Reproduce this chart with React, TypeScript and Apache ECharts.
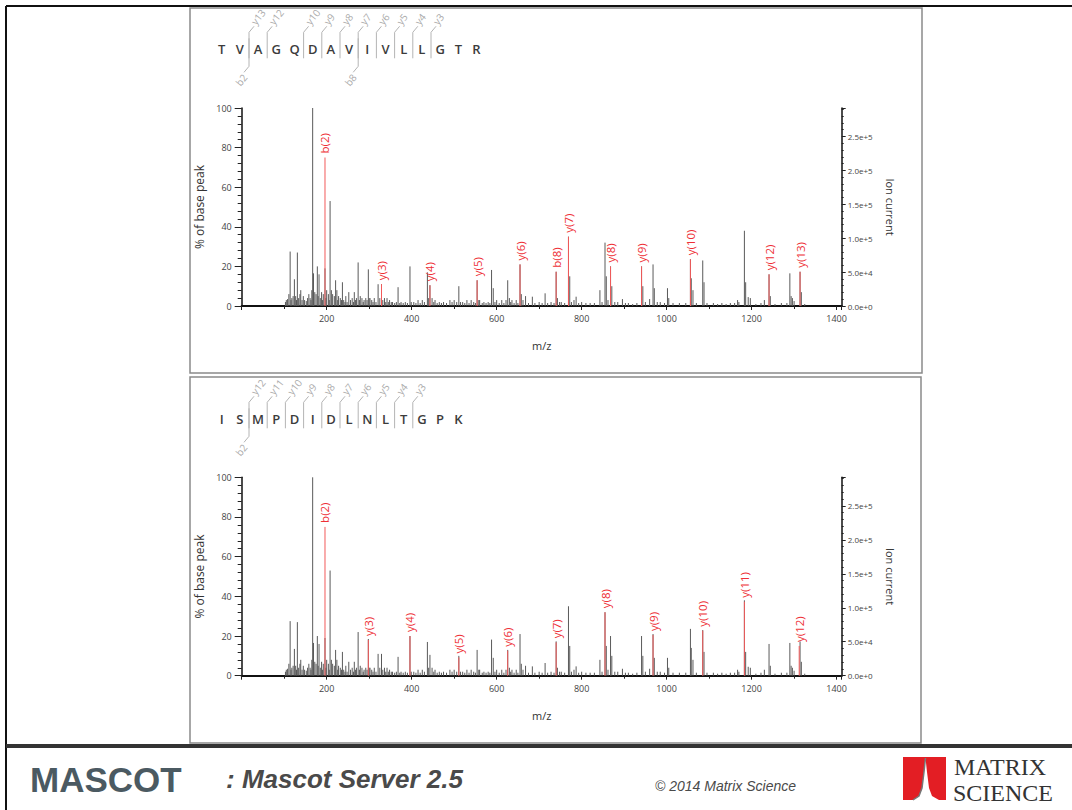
import React, { useEffect, useRef } from 'react';
import * as echarts from 'echarts';

// Spectrum peaks [m/z, % of base peak] (same spectrum matched against two peptides)
const spectrumPeaks: [number, number][] = [
  [103, 2], [105, 3], [108, 3.5], [111, 6], [114, 27.5], [116, 3], [118, 4], [121, 5], [124, 13.5], [127, 5],
  [129, 3], [131, 27], [134, 4], [137, 6], [139, 8], [142, 3], [145, 5], [148, 3], [152, 2.5], [155, 4],
  [158, 6], [161, 4], [163, 3], [165, 8], [167, 100], [169, 16.5], [172, 7], [175, 6], [178, 20], [180, 5],
  [182, 16], [185, 4], [188, 7], [190, 3], [192, 6], [196, 19], [198, 4], [200, 8], [204, 6], [206, 3],
  [208, 53], [211, 8], [214, 6], [218, 5], [221, 13], [224, 8], [226, 3], [228, 5], [232, 4], [235, 3],
  [237, 12], [240, 3], [243, 2], [245, 5], [248, 2], [252, 7], [256, 3], [260, 4], [263, 2], [265, 7],
  [268, 3], [270, 4], [274, 22], [277, 3], [279, 5], [283, 4], [286, 2], [288, 3], [292, 4], [295, 3],
  [298, 18.5], [300, 4], [302, 4], [306, 3], [309, 2], [312, 4], [316, 2], [321, 11], [325, 4], [329, 11],
  [332, 3], [336, 4], [339, 2], [342, 4], [345, 2], [348, 3], [352, 2], [355, 2], [360, 1.5], [364, 2],
  [368, 9.5], [372, 1.5], [375, 2], [380, 1.5], [385, 2], [390, 1.5], [396, 20], [399, 2], [405, 2], [410, 1.5],
  [415, 3], [420, 1.5], [425, 3], [430, 2], [437, 17], [440, 4], [443, 10.5], [448, 4], [452, 2], [455, 3],
  [460, 1.5], [465, 2], [470, 1.5], [475, 2], [482, 1.5], [490, 3], [495, 2], [500, 3], [506, 2], [511, 10],
  [515, 2], [520, 2], [525, 1.5], [530, 3], [535, 1.5], [540, 3], [546, 2], [550, 1.5], [554, 13], [558, 3],
  [560, 3], [566, 1.5], [570, 2], [575, 1.5], [580, 2], [584, 1.5], [588, 18.2], [592, 9], [596, 2], [600, 3],
  [606, 1.5], [612, 3], [617, 1.5], [622, 3], [626, 13], [630, 4], [633, 2], [636, 3], [641, 1.5], [646, 3],
  [650, 1.5], [655, 21], [658, 6], [662, 3], [668, 5], [675, 1.5], [684, 4.7], [690, 1.5], [700, 2], [707, 1.5],
  [714, 6.4], [720, 1.5], [728, 2], [735, 1.5], [740, 17.3], [743, 4], [748, 2], [752, 2], [760, 1.5], [769, 35],
  [772, 15], [776, 2], [782, 3], [787, 4.7], [793, 1.5], [800, 2], [810, 1.5], [820, 1.5], [830, 1.5], [843, 8],
  [848, 2], [855, 32], [858, 15], [862, 3], [868, 20], [871, 10], [878, 2], [885, 2], [896, 3.5], [903, 1.5],
  [910, 1.5], [920, 1], [930, 1.5], [941, 20], [944, 10], [950, 2], [960, 3.5], [968, 21], [971, 9], [978, 2],
  [985, 2], [995, 1.5], [1002, 9], [1005, 4], [1015, 1.5], [1030, 1.5], [1045, 1.5], [1056, 23.6], [1058, 14], [1062, 8],
  [1070, 1.5], [1085, 23], [1088, 12], [1095, 1.5], [1110, 1.5], [1120, 1], [1130, 1.5], [1140, 1], [1150, 1.5], [1160, 1.5],
  [1167, 3], [1170, 2], [1183, 38], [1186, 12], [1192, 4.5], [1197, 4], [1210, 1], [1222, 1.5], [1230, 3], [1241, 16],
  [1244, 5], [1255, 1], [1270, 1.5], [1283, 1.5], [1290, 16.5], [1293, 5], [1296, 4], [1300, 2.5], [1314, 17.3], [1317, 7],
  [1325, 1],
];

// Matched ions, upper panel (TVAGQDAVIVLLGTR)
const topIonLabels = ['b(2)', 'y(3)', 'y(4)', 'y(5)', 'y(6)', 'b(8)', 'y(7)', 'y(8)', 'y(9)', 'y(10)', 'y(12)', 'y(13)'];
const topIonMz = [196, 329, 443, 554, 655, 740, 769, 868, 941, 1056, 1241, 1314];
const topIonIntensity = [75, 11, 10.5, 13, 21, 17.3, 35, 20, 20, 23.6, 16, 17.3];

// Matched ions, lower panel (ISMPDIDLNLTGPK)
const bottomIonLabels = ['b(2)', 'y(3)', 'y(4)', 'y(5)', 'y(6)', 'y(7)', 'y(8)', 'y(9)', 'y(10)', 'y(11)', 'y(12)'];
const bottomIonMz = [196, 298, 396, 511, 626, 740, 855, 968, 1085, 1183, 1312];
const bottomIonIntensity = [75, 18, 20, 9.2, 12.6, 16.8, 32, 20.5, 22.7, 37.3, 15];

const topSequence = 'TVAGQDAVIVLLGTR'.split('');
const topYIons = [13, 12, 10, 9, 8, 7, 6, 5, 4, 3];
const topBIons = [2, 8];
const bottomSequence = 'ISMPDIDLNLTGPK'.split('');
const bottomYIons = [12, 11, 10, 9, 8, 7, 6, 5, 4, 3];
const bottomBIons = [2];

const MZ_MAX = 1412;
const ION_CURRENT_MAX = 292000;
const FONT = '"Open Sans", "Noto Sans", sans-serif';

function peptideGraphics(seq: string[], yIons: number[], bIons: number[], x0: number, yMid: number) {
  const step = 18.2;
  const N = seq.length;
  const els: any[] = [];
  const grey = '#b4b4b4';
  yIons.forEach((n) => {
    const bx = x0 + (N - n - 0.5) * step;
    els.push({
      type: 'polyline',
      shape: { points: [[bx, yMid + 9], [bx, yMid - 17], [bx + 5, yMid - 23]] },
      style: { stroke: grey, lineWidth: 1, fill: 'none' },
    });
    els.push({
      type: 'text', x: bx + 4, y: yMid - 26, rotation: 0.9,
      style: { text: 'y' + n, fontSize: 10, fontFamily: FONT, fill: '#ababab', align: 'left', verticalAlign: 'middle' },
    });
  });
  bIons.forEach((n) => {
    const bx = x0 + (n - 0.5) * step;
    els.push({
      type: 'polyline',
      shape: { points: [[bx, yMid - 11], [bx, yMid + 17], [bx - 5, yMid + 23]] },
      style: { stroke: grey, lineWidth: 1, fill: 'none' },
    });
    els.push({
      type: 'text', x: bx - 4, y: yMid + 26, rotation: 0.9,
      style: { text: 'b' + n, fontSize: 10, fontFamily: FONT, fill: '#ababab', align: 'right', verticalAlign: 'middle' },
    });
  });
  seq.forEach((aa, i) => {
    els.push({
      type: 'text', x: x0 + i * step, y: yMid,
      style: { text: aa, fontSize: 13, fontWeight: 600, fontFamily: FONT, fill: '#3c3c3c', align: 'center', verticalAlign: 'middle' },
    });
  });
  return els;
}

function axesFor(i: number) {
  const lineStyle = { color: '#111', width: 1.5 };
  const tickStyle = { color: '#222', width: 1 };
  const xAxis = {
    gridIndex: i, type: 'value', min: 0, max: MZ_MAX, interval: 200,
    axisLine: { show: true, onZero: false, lineStyle: { color: '#111', width: 2 } },
    axisTick: { show: true, length: 4, lineStyle: tickStyle },
    minorTick: { show: true, splitNumber: 2, length: 3, lineStyle: tickStyle },
    splitLine: { show: false },
    axisLabel: {
      fontSize: 9, color: '#444', margin: 8, fontFamily: FONT,
      formatter: (v: number) => (v > 0 && v % 200 === 0 ? String(v) : ''),
    },
    name: 'm/z', nameLocation: 'middle', nameGap: 34,
    nameTextStyle: { fontSize: 11, color: '#333', fontFamily: FONT },
  };
  const yLeft = {
    gridIndex: i, type: 'value', min: 0, max: 100, interval: 20, position: 'left',
    axisLine: { show: true, lineStyle },
    axisTick: { show: true, length: 7, lineStyle: tickStyle },
    minorTick: { show: true, splitNumber: 5, length: 4, lineStyle: tickStyle },
    splitLine: { show: false },
    axisLabel: { fontSize: 9, color: '#444', margin: 10, fontFamily: FONT },
    name: '% of base peak', nameLocation: 'middle', nameGap: 30, nameRotate: 90,
    nameTextStyle: { fontSize: 12, color: '#333', fontFamily: FONT },
  };
  const yRight = {
    gridIndex: i, type: 'value', min: 0, max: ION_CURRENT_MAX, interval: 50000, position: 'right',
    axisLine: { show: true, lineStyle },
    axisTick: { show: true, length: 4, lineStyle: tickStyle },
    minorTick: { show: true, splitNumber: 5, length: 2, lineStyle: tickStyle },
    splitLine: { show: false },
    axisLabel: {
      fontSize: 8, color: '#444', margin: 6, fontFamily: FONT,
      formatter: (v: number) => (v % 50000 === 0 ? v.toExponential(1) : ''),
    },
    name: 'Ion current', nameLocation: 'middle', nameGap: 43, nameRotate: -90,
    nameTextStyle: { fontSize: 11, color: '#333', fontFamily: FONT },
  };
  return { xAxis, yLeft, yRight };
}

function peakSeries(i: number) {
  return {
    type: 'custom', xAxisIndex: i, yAxisIndex: i * 2,
    data: spectrumPeaks,
    z: 2,
    renderItem: (_p: any, api: any) => {
      const a = api.coord([api.value(0), 0]);
      const b = api.coord([api.value(0), api.value(1)]);
      return { type: 'line', shape: { x1: a[0], y1: a[1], x2: b[0], y2: b[1] }, style: { stroke: '#5a5a5a', lineWidth: 1 } };
    },
  };
}

function ionSeries(i: number, labels: string[], mz: number[], inten: number[]) {
  const data = mz.map((m, k) => [m, inten[k]]);
  return {
    type: 'custom', xAxisIndex: i, yAxisIndex: i * 2,
    data, z: 3,
    renderItem: (p: any, api: any) => {
      const a = api.coord([api.value(0), 0]);
      const b = api.coord([api.value(0), api.value(1)]);
      return {
        type: 'group',
        children: [
          { type: 'line', shape: { x1: a[0], y1: a[1], x2: b[0], y2: b[1] }, style: { stroke: '#f25a5a', lineWidth: 1 } },
          {
            type: 'text', x: b[0], y: b[1] - 4, rotation: Math.PI / 2,
            style: { text: labels[p.dataIndex], fontSize: 11.5, fontFamily: FONT, fill: '#ee2f36', align: 'left', verticalAlign: 'middle' },
          },
        ],
      };
    },
  };
}

export default function App() {
  const ref = useRef<HTMLDivElement>(null);
  useEffect(() => {
    if (!ref.current) return;
    const chart = echarts.init(ref.current, undefined, { renderer: 'svg' });
    const a0 = axesFor(0);
    const a1 = axesFor(1);
    const graphic: any[] = [
      // slide frame
      { type: 'line', shape: { x1: 6, y1: 6, x2: 1072, y2: 6 }, style: { stroke: '#111', lineWidth: 2 } },
      { type: 'line', shape: { x1: 6, y1: 6, x2: 6, y2: 810 }, style: { stroke: '#111', lineWidth: 2 } },
      // panels
      { type: 'rect', shape: { x: 190, y: 8, width: 732, height: 365 }, style: { fill: 'none', stroke: '#8a8a8a', lineWidth: 1.5 } },
      { type: 'rect', shape: { x: 190, y: 377, width: 731, height: 366 }, style: { fill: 'none', stroke: '#8a8a8a', lineWidth: 1.5 } },
      // footer separator
      { type: 'rect', shape: { x: 6, y: 744, width: 1066, height: 4 }, style: { fill: '#333' } },
      // footer texts
      { type: 'text', x: 30, y: 779, style: { text: 'MASCOT', fontSize: 35, fontWeight: 'bold', fontFamily: '"Liberation Sans", sans-serif', fill: '#4b5a62', verticalAlign: 'middle' } },
      { type: 'text', x: 226, y: 779, style: { text: ': Mascot Server 2.5', fontSize: 26, fontWeight: 'bold', fontStyle: 'italic', fontFamily: '"Liberation Sans", sans-serif', fill: '#4a4a4a', verticalAlign: 'middle' } },
      { type: 'text', x: 655, y: 786, style: { text: '\u00A9 2014 Matrix Science', fontSize: 14, fontStyle: 'italic', fontFamily: '"Liberation Sans", sans-serif', fill: '#4a4a4a', verticalAlign: 'middle' } },
      // logo
      { type: 'rect', shape: { x: 903, y: 757, width: 43, height: 43 }, style: { fill: '#e31e24' } },
      { type: 'polygon', shape: { points: [[913, 800], [919, 796], [922, 788], [924, 772], [925.5, 758], [927, 772], [929, 788], [932, 796], [939, 800]] }, style: { fill: '#ffffff' } },
      { type: 'polyline', shape: { points: [[913, 800], [919, 796], [922, 788], [924, 772], [925.5, 758]] }, style: { stroke: '#777', lineWidth: 1.5, fill: 'none' } },
      { type: 'text', x: 954, y: 767, style: { text: 'MATRIX', fontSize: 24, fontFamily: '"Liberation Serif", serif', fill: '#333', align: 'left', verticalAlign: 'middle' } },
      { type: 'text', x: 953, y: 792.5, style: { text: 'SCIENCE', fontSize: 24, fontFamily: '"Liberation Serif", serif', fill: '#333', align: 'left', verticalAlign: 'middle' } },
      ...peptideGraphics(topSequence, topYIons, topBIons, 221.7, 49.3),
      ...peptideGraphics(bottomSequence, bottomYIons, bottomBIons, 221.7, 419.3),
    ];
    chart.setOption({
      animation: false,
      backgroundColor: '#ffffff',
      grid: [
        { left: 241.7, width: 600, top: 108, height: 198 },
        { left: 241.7, width: 600, top: 477.3, height: 198.4 },
      ],
      xAxis: [a0.xAxis, a1.xAxis],
      yAxis: [a0.yLeft, a0.yRight, a1.yLeft, a1.yRight],
      series: [
        peakSeries(0),
        ionSeries(0, topIonLabels, topIonMz, topIonIntensity),
        peakSeries(1),
        ionSeries(1, bottomIonLabels, bottomIonMz, bottomIonIntensity),
      ],
      graphic,
    });
    return () => chart.dispose();
  }, []);
  return <div ref={ref} style={{ position: 'fixed', left: 0, top: 0, width: 1072, height: 810, background: '#fff' }} />;
}
